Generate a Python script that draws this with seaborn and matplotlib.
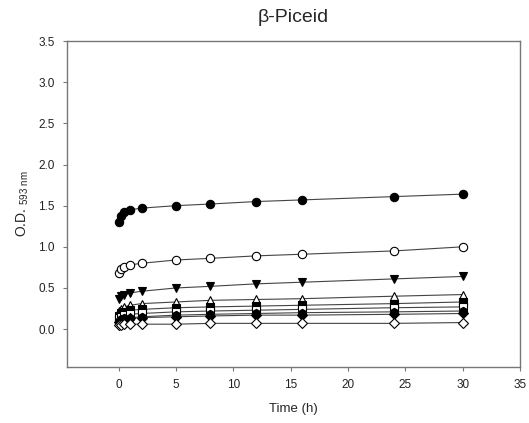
import matplotlib
matplotlib.use("Agg")
import matplotlib.pyplot as plt
import seaborn as sns
import pandas as pd

time_h = [0, 0.25, 0.5, 1, 2, 5, 8, 12, 16, 24, 30]
s_filled_circle = [1.30, 1.38, 1.42, 1.45, 1.47, 1.50, 1.52, 1.55, 1.57, 1.61, 1.64]
s_open_circle = [0.68, 0.73, 0.76, 0.78, 0.80, 0.84, 0.86, 0.89, 0.91, 0.95, 1.00]
s_filled_tri_down = [0.36, 0.40, 0.42, 0.44, 0.46, 0.50, 0.52, 0.55, 0.57, 0.61, 0.64]
s_open_tri_up = [0.22, 0.25, 0.27, 0.29, 0.31, 0.33, 0.35, 0.36, 0.37, 0.40, 0.42]
s_filled_square = [0.16, 0.19, 0.21, 0.23, 0.24, 0.26, 0.27, 0.28, 0.29, 0.31, 0.33]
s_open_square = [0.13, 0.15, 0.17, 0.18, 0.19, 0.21, 0.22, 0.23, 0.24, 0.26, 0.27]
s_filled_hex = [0.10, 0.12, 0.13, 0.14, 0.15, 0.17, 0.18, 0.19, 0.20, 0.21, 0.22]
s_filled_diamond = [0.09, 0.11, 0.12, 0.13, 0.14, 0.15, 0.16, 0.17, 0.17, 0.18, 0.19]
s_open_diamond = [0.05, 0.05, 0.06, 0.06, 0.06, 0.06, 0.07, 0.07, 0.07, 0.07, 0.08]

series = [
    ("a", s_filled_circle, "o", "black"),
    ("b", s_open_circle, "o", "white"),
    ("c", s_filled_tri_down, "v", "black"),
    ("d", s_open_tri_up, "^", "white"),
    ("e", s_filled_square, "s", "black"),
    ("f", s_open_square, "s", "white"),
    ("g", s_filled_hex, "h", "black"),
    ("h", s_filled_diamond, "D", "black"),
    ("i", s_open_diamond, "D", "white"),
]

sns.set_style("white")
plt.rcParams['font.family'] = ['Liberation Sans', 'DejaVu Sans']

fig = plt.figure(figsize=(5.29, 4.23), dpi=100)
ax = fig.add_axes([0.1267, 0.1324, 0.983 - 0.1267, 0.903 - 0.1324])

for name, vals, mk, fc in series:
    df = pd.DataFrame({"t": time_h, "v": vals})
    ms = 6 if mk != "D" else 5
    sns.lineplot(data=df, x="t", y="v", ax=ax, color="#444444", linewidth=0.8,
                 marker=mk, markersize=ms, markerfacecolor=fc,
                 markeredgecolor="black", markeredgewidth=0.8)

ax.set_xlim(-4.5, 35)
ax.set_ylim(-0.46, 3.5)
ax.set_xticks([0, 5, 10, 15, 20, 25, 30, 35])
ax.set_yticks([0.0, 0.5, 1.0, 1.5, 2.0, 2.5, 3.0, 3.5])
ax.set_yticklabels([f"{v:.1f}" for v in [0.0, 0.5, 1.0, 1.5, 2.0, 2.5, 3.0, 3.5]])
ax.tick_params(axis="both", direction="out", length=3, width=0.8, color="#777777",
               labelsize=8.5, labelcolor="#222222", pad=6)
ax.tick_params(bottom=True, left=True)
for sp in ax.spines.values():
    sp.set_color("#777777")
    sp.set_linewidth(1.0)
ax.set_xlabel("Time (h)", fontsize=9.5, labelpad=8)
ax.set_ylabel(r"O.D. $_{\mathregular{593\ nm}}$", fontsize=10, labelpad=5)
ax.set_title("β-Piceid", fontsize=14, pad=14)

fig.savefig("out.png", dpi=100)
